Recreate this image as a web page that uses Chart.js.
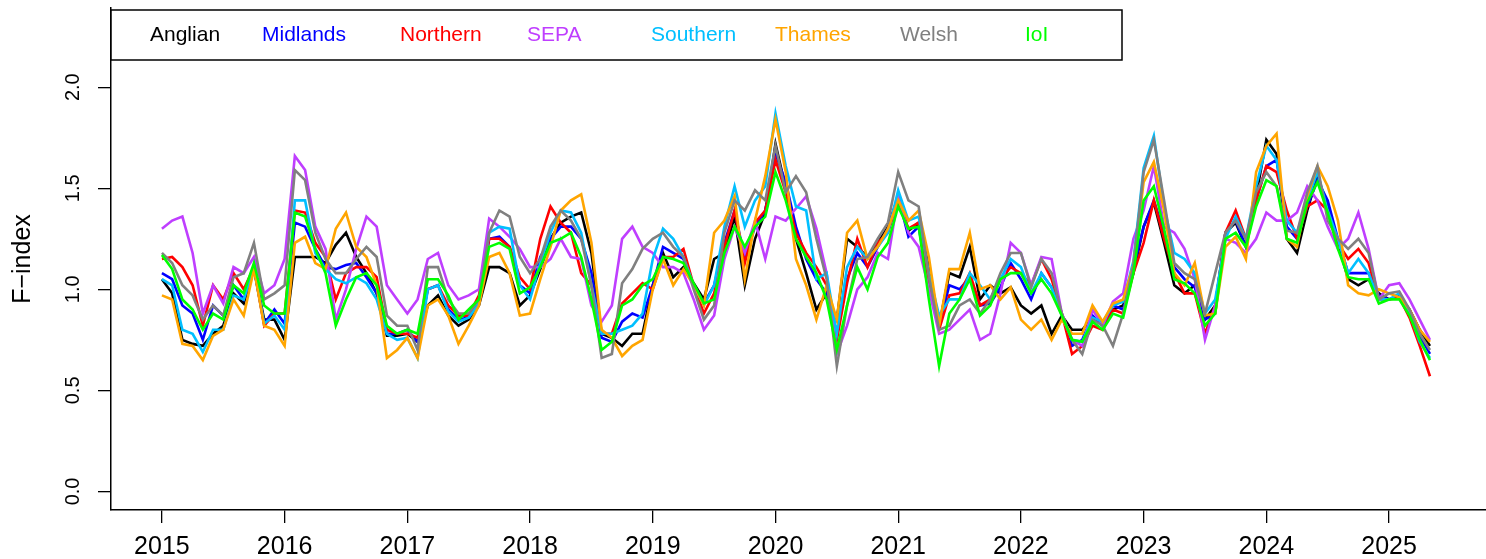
<!DOCTYPE html>
<html>
<head>
<meta charset="utf-8">
<script src="https://cdn.jsdelivr.net/npm/chart.js@4.4.0/dist/chart.umd.min.js"></script>
<style>
  html, body { margin: 0; padding: 0; background: #fff; }
  #wrap { width: 1486px; height: 559px; }
</style>
</head>
<body>
<div id="wrap"><canvas id="chart" width="1486" height="559"></canvas></div>
<script>
// monthly F-index values, Jan 2015 onwards (one value per month)
const startYear = 2015;
const yearTicks = [2015, 2016, 2017, 2018, 2019, 2020, 2021, 2022, 2023, 2024, 2025];
const yTicks = [0, 0.5, 1, 1.5, 2];
const regions = ['Anglian', 'Midlands', 'Northern', 'SEPA', 'Southern', 'Thames', 'Welsh', 'IoI'];
const colours = ['#000000', '#0000FF', '#FF0000', '#BF3EFF', '#00BFFF', '#FFA500', '#808080', '#00FF00'];

const anglian = [
  1.05, 0.98, 0.75, 0.73, 0.72, 0.78, 0.82, 0.98, 0.93, 1.10,
  0.85, 0.85, 0.75, 1.16, 1.16, 1.16, 1.13, 1.22, 1.28, 1.16,
  1.08, 0.98, 0.77, 0.77, 0.78, 0.74, 0.92, 0.97, 0.87, 0.82,
  0.85, 0.92, 1.11, 1.11, 1.08, 0.92, 0.97, 1.10, 1.25, 1.33,
  1.36, 1.38, 1.18, 0.78, 0.76, 0.72, 0.78, 0.78, 1.02, 1.18,
  1.06, 1.11, 1.03, 0.95, 1.15, 1.18, 1.36, 1.02, 1.25, 1.38,
  1.72, 1.50, 1.25, 1.08, 0.90, 0.98, 0.85, 1.25, 1.21, 1.16,
  1.23, 1.31, 1.46, 1.29, 1.33, 1.11, 0.82, 1.08, 1.06, 1.21,
  0.95, 1.02, 0.98, 1.01, 0.92, 0.88, 0.92, 0.78, 0.87, 0.80,
  0.80, 0.86, 0.82, 0.90, 0.92, 1.08, 1.31, 1.43, 1.23, 1.02,
  0.98, 1.02, 0.85, 0.92, 1.28, 1.33, 1.21, 1.46, 1.74, 1.67,
  1.25, 1.18, 1.39, 1.56, 1.41, 1.23, 1.05, 1.02, 1.05, 0.98,
  0.95, 0.97, 0.90, 0.80, 0.72
];
const midlands = [
  1.08, 1.05, 0.92, 0.88, 0.75, 0.92, 0.87, 1.02, 0.95, 1.10,
  0.83, 0.90, 0.83, 1.33, 1.31, 1.20, 1.11, 1.10, 1.12, 1.13,
  1.06, 0.98, 0.78, 0.78, 0.80, 0.74, 1.00, 1.02, 0.90, 0.85,
  0.86, 0.93, 1.25, 1.26, 1.21, 1.02, 0.98, 1.16, 1.25, 1.31,
  1.31, 1.25, 1.08, 0.76, 0.74, 0.84, 0.88, 0.86, 1.02, 1.21,
  1.18, 1.15, 1.02, 0.93, 1.02, 1.23, 1.39, 1.15, 1.31, 1.39,
  1.67, 1.53, 1.31, 1.15, 1.05, 0.98, 0.78, 1.05, 1.18, 1.11,
  1.21, 1.30, 1.46, 1.26, 1.31, 1.02, 0.82, 1.02, 1.00, 1.06,
  0.92, 0.93, 1.01, 1.13, 1.05, 0.95, 1.08, 1.01, 0.88, 0.72,
  0.75, 0.87, 0.82, 0.92, 0.90, 1.10, 1.31, 1.44, 1.28, 1.11,
  1.05, 1.01, 0.85, 0.88, 1.28, 1.34, 1.21, 1.44, 1.61, 1.64,
  1.31, 1.25, 1.41, 1.54, 1.44, 1.25, 1.08, 1.08, 1.08, 0.97,
  0.95, 0.97, 0.88, 0.77, 0.68
];
const northern = [
  1.15, 1.16, 1.11, 1.02, 0.82, 1.02, 0.95, 1.08, 1.00, 1.11,
  0.82, 0.88, 0.88, 1.39, 1.38, 1.23, 1.16, 0.95, 1.08, 1.11,
  1.11, 1.06, 0.80, 0.78, 0.78, 0.76, 1.00, 1.02, 0.92, 0.87,
  0.87, 0.97, 1.25, 1.25, 1.21, 1.06, 1.00, 1.25, 1.41, 1.33,
  1.28, 1.08, 1.02, 0.78, 0.78, 0.93, 0.98, 1.03, 1.00, 1.16,
  1.16, 1.20, 1.02, 0.88, 0.98, 1.21, 1.39, 1.13, 1.33, 1.39,
  1.64, 1.48, 1.28, 1.18, 1.11, 1.02, 0.75, 1.03, 1.25, 1.11,
  1.23, 1.28, 1.44, 1.30, 1.33, 1.02, 0.80, 0.97, 0.98, 1.08,
  0.92, 0.95, 1.05, 1.11, 1.08, 1.02, 1.15, 1.05, 0.88, 0.68,
  0.72, 0.82, 0.80, 0.90, 0.88, 1.08, 1.23, 1.44, 1.25, 1.08,
  0.98, 0.98, 0.78, 0.92, 1.28, 1.39, 1.25, 1.44, 1.61, 1.58,
  1.39, 1.25, 1.41, 1.44, 1.39, 1.23, 1.15, 1.20, 1.13, 0.95,
  0.95, 0.96, 0.86, 0.72, 0.57
];
const sepa = [
  1.30, 1.34, 1.36, 1.18, 0.88, 1.02, 0.93, 1.11, 1.08, 1.16,
  0.98, 1.02, 1.15, 1.66, 1.59, 1.31, 1.20, 0.85, 1.00, 1.20,
  1.36, 1.31, 1.02, 0.95, 0.88, 0.95, 1.15, 1.18, 1.02, 0.95,
  0.97, 1.00, 1.35, 1.31, 1.26, 1.20, 1.11, 1.11, 1.15, 1.25,
  1.16, 1.15, 0.92, 0.84, 0.92, 1.25, 1.31, 1.21, 1.18, 1.11,
  1.11, 1.08, 0.95, 0.80, 0.87, 1.15, 1.31, 1.18, 1.34, 1.15,
  1.36, 1.34, 1.40, 1.46, 1.30, 1.08, 0.68, 0.82, 1.00, 1.06,
  1.18, 1.15, 1.46, 1.28, 1.21, 1.00, 0.78, 0.80, 0.85, 0.90,
  0.75, 0.78, 0.98, 1.23, 1.18, 1.02, 1.16, 1.15, 0.88, 0.75,
  0.72, 0.90, 0.82, 0.94, 0.98, 1.25, 1.39, 1.61, 1.31, 1.28,
  1.20, 1.05, 0.75, 0.92, 1.25, 1.23, 1.18, 1.25, 1.38, 1.34,
  1.34, 1.38, 1.51, 1.44, 1.31, 1.20, 1.25, 1.38, 1.20, 0.95,
  1.02, 1.03, 0.95, 0.85, 0.75
];
const southern = [
  1.05, 1.02, 0.80, 0.78, 0.69, 0.80, 0.80, 0.97, 0.95, 1.11,
  0.83, 0.87, 0.80, 1.44, 1.44, 1.18, 1.10, 1.05, 1.03, 1.06,
  1.03, 0.95, 0.78, 0.75, 0.76, 0.66, 1.00, 1.02, 0.89, 0.84,
  0.86, 0.93, 1.28, 1.31, 1.30, 1.02, 0.95, 1.13, 1.28, 1.39,
  1.38, 1.28, 1.02, 0.78, 0.78, 0.80, 0.82, 0.88, 1.15, 1.30,
  1.25, 1.16, 1.02, 0.92, 1.02, 1.31, 1.51, 1.31, 1.44, 1.51,
  1.87, 1.61, 1.41, 1.39, 1.05, 1.08, 0.78, 1.11, 1.21, 1.15,
  1.21, 1.28, 1.49, 1.34, 1.36, 1.08, 0.87, 0.95, 0.95, 1.08,
  1.02, 0.95, 1.05, 1.15, 1.11, 0.98, 1.08, 1.01, 0.87, 0.75,
  0.74, 0.86, 0.84, 0.92, 0.94, 1.14, 1.60, 1.76, 1.41, 1.18,
  1.15, 1.08, 0.88, 0.95, 1.25, 1.36, 1.25, 1.51, 1.71, 1.64,
  1.34, 1.28, 1.44, 1.58, 1.39, 1.25, 1.08, 1.15, 1.08, 0.95,
  0.95, 0.98, 0.88, 0.74, 0.66
];
const thames = [
  0.97, 0.95, 0.73, 0.72, 0.65, 0.77, 0.80, 0.95, 0.87, 1.10,
  0.82, 0.80, 0.72, 1.23, 1.26, 1.13, 1.10, 1.30, 1.38, 1.21,
  1.16, 1.02, 0.66, 0.70, 0.76, 0.66, 0.92, 0.95, 0.87, 0.73,
  0.82, 0.92, 1.16, 1.18, 1.08, 0.87, 0.88, 1.05, 1.21, 1.39,
  1.44, 1.47, 1.23, 0.80, 0.76, 0.67, 0.72, 0.75, 1.00, 1.15,
  1.02, 1.10, 1.02, 0.92, 1.28, 1.34, 1.46, 1.05, 1.34, 1.56,
  1.84, 1.58, 1.15, 1.02, 0.85, 1.02, 0.85, 1.28, 1.34, 1.15,
  1.21, 1.30, 1.44, 1.34, 1.39, 1.16, 0.82, 1.10, 1.10, 1.28,
  1.00, 1.02, 0.95, 1.01, 0.85, 0.80, 0.85, 0.75, 0.85, 0.78,
  0.78, 0.92, 0.84, 0.93, 0.95, 1.12, 1.53, 1.63, 1.39, 1.08,
  1.02, 1.13, 0.87, 0.88, 1.21, 1.26, 1.15, 1.58, 1.71, 1.77,
  1.25, 1.21, 1.46, 1.61, 1.51, 1.34, 1.02, 0.98, 0.97, 1.00,
  0.98, 0.96, 0.90, 0.80, 0.74
];
const welsh = [
  1.18, 1.13, 1.02, 0.97, 0.85, 0.92, 0.87, 1.06, 1.08, 1.23,
  0.95, 0.98, 1.02, 1.59, 1.54, 1.28, 1.15, 1.08, 1.08, 1.15,
  1.21, 1.16, 0.87, 0.82, 0.82, 0.70, 1.11, 1.11, 0.95, 0.88,
  0.88, 0.95, 1.28, 1.39, 1.36, 1.16, 1.08, 1.15, 1.31, 1.39,
  1.34, 1.25, 1.02, 0.66, 0.68, 1.03, 1.10, 1.20, 1.25, 1.28,
  1.21, 1.16, 1.00, 0.85, 0.92, 1.28, 1.44, 1.39, 1.49, 1.44,
  1.71, 1.48, 1.56, 1.48, 1.25, 1.05, 0.62, 0.92, 1.15, 1.16,
  1.25, 1.33, 1.58, 1.44, 1.41, 1.06, 0.80, 0.82, 0.92, 0.95,
  0.88, 0.95, 1.08, 1.18, 1.18, 1.01, 1.15, 1.08, 0.88, 0.75,
  0.68, 0.85, 0.82, 0.72, 0.88, 1.12, 1.58, 1.74, 1.44, 1.13,
  1.08, 1.05, 0.88, 1.08, 1.28, 1.34, 1.25, 1.48, 1.58, 1.51,
  1.29, 1.28, 1.48, 1.61, 1.34, 1.25, 1.20, 1.25, 1.18, 0.95,
  0.98, 0.99, 0.90, 0.78, 0.70
];
const ioi = [
  1.17, 1.10, 0.95, 0.90, 0.80, 0.88, 0.85, 1.02, 0.98, 1.13,
  0.92, 0.88, 0.88, 1.38, 1.36, 1.20, 1.08, 0.82, 0.95, 1.06,
  1.08, 1.02, 0.82, 0.78, 0.80, 0.78, 1.05, 1.05, 0.97, 0.85,
  0.90, 0.95, 1.21, 1.23, 1.20, 0.98, 1.01, 1.11, 1.23, 1.25,
  1.28, 1.16, 0.95, 0.70, 0.74, 0.92, 0.95, 1.02, 1.05, 1.16,
  1.15, 1.13, 1.03, 0.93, 0.95, 1.18, 1.31, 1.21, 1.31, 1.36,
  1.58, 1.44, 1.25, 1.16, 1.08, 0.95, 0.70, 0.92, 1.11, 1.00,
  1.16, 1.23, 1.41, 1.30, 1.31, 0.95, 0.62, 0.88, 0.95, 1.05,
  0.87, 0.92, 1.05, 1.08, 1.08, 0.98, 1.05, 0.98, 0.87, 0.75,
  0.74, 0.84, 0.80, 0.88, 0.86, 1.08, 1.44, 1.51, 1.30, 1.05,
  1.03, 0.98, 0.82, 0.88, 1.25, 1.28, 1.21, 1.41, 1.54, 1.51,
  1.25, 1.23, 1.43, 1.53, 1.38, 1.20, 1.06, 1.05, 1.05, 0.93,
  0.95, 0.95, 0.87, 0.75, 0.65
];

const seriesValues = [anglian, midlands, northern, sepa, southern, thames, welsh, ioi];

// axis limits as R sets them (data range plus 4 %)
const xMin = 2014.585, xMax = 2025.79;
const yMin = -0.092, yMax = 2.392;
const fontFamily = '"Liberation Sans", Arial, Helvetica, sans-serif';

const datasets = regions.map((name, k) => ({
  label: name,
  data: seriesValues[k].map((v, i) => ({ x: startYear + i / 12, y: v })),
  borderColor: colours[k],
  backgroundColor: colours[k],
  borderWidth: 2.6,
  pointRadius: 0,
  tension: 0,
  order: regions.length - k   // later series painted on top, as in R
}));

const rLegend = {
  id: 'rLegend',
  afterDraw(chart, args, opts) {
    const ctx = chart.ctx;
    ctx.save();
    ctx.fillStyle = '#fff';
    ctx.fillRect(opts.left, opts.top, opts.right - opts.left, opts.bottom - opts.top);
    ctx.strokeStyle = '#000';
    ctx.lineWidth = 1.5;
    ctx.strokeRect(opts.left, opts.top, opts.right - opts.left, opts.bottom - opts.top);
    ctx.font = '21px ' + fontFamily;
    ctx.textBaseline = 'middle';
    ctx.textAlign = 'left';
    chart.data.datasets.forEach((ds, k) => {
      ctx.fillStyle = ds.borderColor;
      ctx.fillText(ds.label, opts.textX[k], (opts.top + opts.bottom) / 2);
    });
    ctx.restore();
  }
};

new Chart(document.getElementById('chart'), {
  type: 'line',
  data: { datasets },
  plugins: [rLegend],
  options: {
    responsive: false,
    animation: false,
    devicePixelRatio: 1,
    layout: { padding: { top: 8, right: 0, left: 0, bottom: 0 } },
    plugins: {
      legend: { display: false },
      tooltip: { enabled: false },
      rLegend: {
        left: 111, top: 10, right: 1122, bottom: 60,
        textX: [150, 262, 400, 527, 651, 775, 900, 1025]
      }
    },
    scales: {
      x: {
        type: 'linear',
        min: xMin, max: xMax,
        afterBuildTicks: s => { s.ticks = yearTicks.map(v => ({ value: v })); },
        afterFit: s => { s.height = 49; s.paddingLeft = 0; s.paddingRight = 0; },
        grid: { drawOnChartArea: false, drawTicks: true, tickLength: 13, color: '#000', lineWidth: 1.3 },
        border: { display: true, color: '#000', width: 1.5 },
        ticks: {
          color: '#000', autoSkip: false, maxRotation: 0, minRotation: 0, padding: 9,
          font: { family: fontFamily, size: 25 },
          callback: v => String(v)
        }
      },
      y: {
        type: 'linear',
        min: yMin, max: yMax,
        afterBuildTicks: s => { s.ticks = yTicks.map(v => ({ value: v })); },
        afterFit: s => { s.width = 111; s.paddingTop = 0; s.paddingBottom = 0; },
        grid: { drawOnChartArea: false, drawTicks: true, tickLength: 13, color: '#000', lineWidth: 1.3 },
        border: { display: true, color: '#000', width: 1.5 },
        ticks: {
          color: '#000', minRotation: 90, maxRotation: 90, crossAlign: 'center', padding: 11,
          font: { family: fontFamily, size: 20 },
          callback: v => v.toFixed(1)
        },
        title: {
          display: true, text: 'F−index', color: '#000',
          font: { family: fontFamily, size: 25 },
          padding: { top: 8, bottom: 0 }
        }
      }
    }
  }
});
</script>
</body>
</html>
